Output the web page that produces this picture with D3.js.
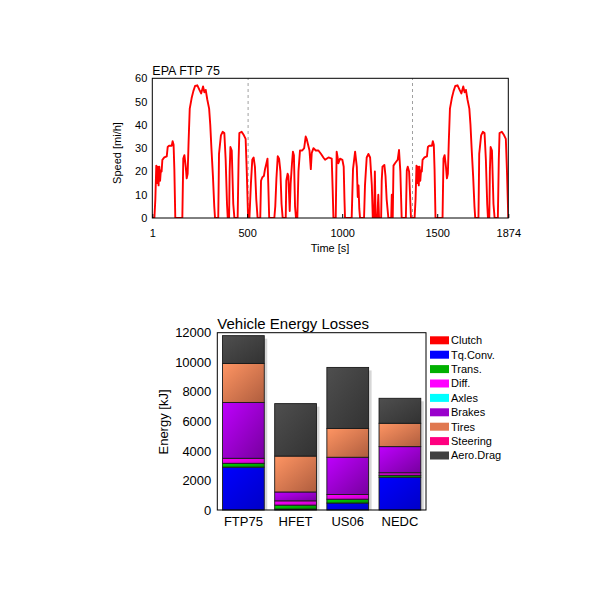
<!DOCTYPE html>
<html>
<head>
<meta charset="utf-8">
<script src="https://cdn.jsdelivr.net/npm/d3@7"></script>
<style>
  body { margin: 0; background: #fff; }
  text { font-family: "Liberation Sans", Arial, sans-serif; fill: #000; }
</style>
</head>
<body>
<svg width="600" height="600"></svg>
<script>
// FTP-75 speed trace, [time s, speed mi/h]
var coldPhase = [[1,0],[12,0],[17,8],[22,22.5],[26,15],[30,22],[34,14],[38,22],[42,16],[46,20.5],[50,20],[54,25],[64,26],[77,26.5],[82,30.5],[89,31],[103,31],[108,33],[113,31.5],[117,21],[122,0],[159,0],[164,25.5],[170,27],[177,22],[182,17],[187,19],[192,33],[198,47],[208,51.5],[217,54.5],[226,56.7],[238,57],[249,55],[258,53.5],[268,56.5],[275,54],[282,55],[290,51],[300,47],[306,40],[312,30],[320,18],[327,5],[331,0],[348,0],[352,27.5],[362,35.5],[371,37],[380,36.5],[387,25],[394,6],[398,0],[405,0],[408,20],[412,30.5],[419,29],[427,6],[433,0],[450,0],[455,25],[459,36.5],[471,37],[483,35.5],[492,34],[498,20],[505,0]];
var stablePhase = [[505,0],[512,0],[520,15],[527,25],[534,26],[541,22],[548,8],[555,0],[569,0],[573,16],[580,17.5],[588,18],[594,21],[600,23],[607,25.5],[611,15],[616,0],[643,0],[648,5],[654,17],[661,26.5],[668,25.5],[675,20],[681,6],[687,0],[703,0],[706,16],[713,19],[717,18],[724,3],[729,15],[736,23.5],[741,28.5],[746,27],[752,5],[757,0],[764,0],[770,20],[778,29],[790,29],[800,30],[808,35],[813,34],[819,32],[828,29],[835,21],[840,28],[849,30],[861,29],[875,29],[889,27.5],[901,26],[910,25],[928,26],[945,25.5],[950,12],[954,0],[966,0],[971,28.5],[976,26],[980,23.5],[989,25.5],[1001,25],[1008,22],[1012,8],[1015,0],[1050,0],[1057,21],[1068,28.5],[1077,22],[1082,9],[1086,14],[1090,4],[1094,0],[1115,0],[1120,14],[1129,26],[1138,27.5],[1147,26],[1156,14],[1161,0],[1168,0],[1172,20],[1176,0],[1185,0],[1190,10],[1194,0],[1205,0],[1208,16],[1212,22],[1222,22.8],[1228,18],[1234,8],[1243,0],[1258,0],[1261,10],[1264,0],[1266,0],[1270,22.5],[1278,23.5],[1292,25],[1299,29.2],[1306,20],[1313,0],[1335,0],[1340,20.5],[1345,22],[1352,20],[1359,6],[1362,0],[1370,0]];
var hotPhase = [[1370,0],[1381,0],[1386,8],[1391,22.5],[1395,15],[1399,22],[1403,14],[1407,22],[1411,16],[1415,20.5],[1419,20],[1423,25],[1433,26],[1446,26.5],[1451,30.5],[1458,31],[1472,31],[1477,33],[1482,31.5],[1486,21],[1491,0],[1528,0],[1533,25.5],[1539,27],[1546,22],[1551,17],[1556,19],[1561,33],[1567,47],[1577,51.5],[1586,54.5],[1595,56.7],[1607,57],[1618,55],[1627,53.5],[1637,56.5],[1644,54],[1651,55],[1659,51],[1669,47],[1675,40],[1681,30],[1689,18],[1696,5],[1700,0],[1717,0],[1721,27.5],[1731,35.5],[1740,37],[1749,36.5],[1756,25],[1763,6],[1767,0],[1774,0],[1777,20],[1781,30.5],[1788,29],[1796,6],[1802,0],[1819,0],[1824,25],[1828,36.5],[1840,37],[1852,35.5],[1861,34],[1867,20],[1874,0]];
var phaseBreaks = [505, 1370];
var timeTicks = [1, 500, 1000, 1500, 1874];
var speedTicks = [0, 10, 20, 30, 40, 50, 60];

// energy losses [kJ]
var cycles = ["FTP75", "HFET", "US06", "NEDC"];
var components = ["Clutch", "Tq.Conv.", "Trans.", "Diff.", "Axles", "Brakes", "Tires", "Steering", "Aero.Drag"];
var componentColors = ["#ff0000", "#0000ff", "#00b000", "#ff00ff", "#00ffff", "#9900cc", "#e07850", "#ff0080", "#404040"];
var clutch   = [0, 0, 0, 0];
var tqConv   = [2900, 60, 470, 2220];
var trans    = [260, 270, 260, 130];
var diff     = [340, 290, 320, 170];
var axles    = [0, 0, 0, 0];
var brakes   = [3780, 600, 2520, 1770];
var tires    = [2640, 2430, 1950, 1580];
var steering = [0, 0, 0, 0];
var aeroDrag = [1880, 3550, 4130, 1690];
var energyTicks = [0, 2000, 4000, 6000, 8000, 10000, 12000];

var svg = d3.select("svg");

// ---------- speed trace ----------
var x = d3.scaleLinear().domain([1, 1874]).range([152.3, 508.3]);
var y = d3.scaleLinear().domain([0, 60]).range([218, 78.3]);

svg.append("clipPath").attr("id", "plotclip")
  .append("rect")
  .attr("x", x.range()[0]).attr("y", y.range()[1])
  .attr("width", x.range()[1] - x.range()[0])
  .attr("height", y.range()[0] - y.range()[1]);

svg.selectAll("line.phase")
  .data(phaseBreaks)
  .enter()
  .append("line")
  .attr("class", "phase")
  .attr("x1", function(d) { return x(d); })
  .attr("x2", function(d) { return x(d); })
  .attr("y1", y(0)).attr("y2", y(60))
  .attr("stroke", "#a0a0a0")
  .attr("stroke-dasharray", "3,3");

var line = d3.line()
  .x(function(d) { return x(d[0]); })
  .y(function(d) { return y(d[1]); });

svg.append("path")
  .attr("d", line(coldPhase.concat(stablePhase, hotPhase)))
  .attr("fill", "none")
  .attr("stroke", "#ff0000")
  .attr("stroke-width", 1.9)
  .attr("stroke-linejoin", "round")
  .attr("clip-path", "url(#plotclip)");

var xAxis = svg.append("g")
  .attr("transform", "translate(0," + y(0) + ")")
  .call(d3.axisBottom(x).tickValues(timeTicks).tickFormat(d3.format("d")).tickSize(-4).tickPadding(11));
var yAxis = svg.append("g")
  .attr("transform", "translate(" + x(1) + ",0)")
  .call(d3.axisLeft(y).tickValues(speedTicks).tickSize(0).tickPadding(5));
[xAxis, yAxis].forEach(function(g) {
  g.select(".domain").remove();
  g.selectAll("text").style("font-size", "11px").style("font-family", null);
  g.selectAll("line").attr("stroke", "#000");
});

svg.append("rect")
  .attr("x", x.range()[0]).attr("y", y.range()[1])
  .attr("width", x.range()[1] - x.range()[0])
  .attr("height", y.range()[0] - y.range()[1])
  .attr("fill", "none").attr("stroke", "#000");

svg.append("text").attr("x", 152.3).attr("y", 75)
  .style("font-size", "12.5px").text("EPA FTP 75");
svg.append("text").attr("x", 330).attr("y", 252)
  .attr("text-anchor", "middle").style("font-size", "11px").text("Time [s]");
svg.append("text")
  .attr("transform", "translate(117,153) rotate(-90)")
  .attr("text-anchor", "middle").attr("dy", "0.35em")
  .style("font-size", "11px").text("Speed [mi/h]");

// ---------- energy losses ----------
var series = [clutch, tqConv, trans, diff, axles, brakes, tires, steering, aeroDrag];
var rows = cycles.map(function(c, i) {
  var row = { cycle: c };
  components.forEach(function(k, j) { row[k] = series[j][i]; });
  return row;
});
var stacked = d3.stack().keys(components)(rows);
var color = d3.scaleOrdinal().domain(components).range(componentColors);

var xb = d3.scaleBand().domain(cycles).range([217.3, 426]).paddingInner(0.2).paddingOuter(0.1);
var yb = d3.scaleLinear().domain([0, 12000]).range([510, 332.7]);

var defs = svg.append("defs");
components.forEach(function(k, j) {
  var g = defs.append("linearGradient").attr("id", "grad" + j)
    .attr("x1", 0).attr("y1", 0).attr("x2", 1).attr("y2", 1);
  g.append("stop").attr("offset", "0%").attr("stop-color", d3.color(color(k)).brighter(0.6));
  g.append("stop").attr("offset", "100%").attr("stop-color", d3.color(color(k)).darker(0.7));
});

// bar shadows
svg.selectAll("rect.shadow")
  .data(rows)
  .enter()
  .append("rect")
  .attr("class", "shadow")
  .attr("x", function(d) { return xb(d.cycle) + 3; })
  .attr("y", function(d, i) { return yb(stacked[stacked.length - 1][i][1]) + 3; })
  .attr("width", xb.bandwidth())
  .attr("height", function(d, i) { return 510 - yb(stacked[stacked.length - 1][i][1]) - 3; })
  .attr("fill", "#d6d6d6");

svg.selectAll("g.layer")
  .data(stacked)
  .enter()
  .append("g")
  .attr("class", "layer")
  .attr("fill", function(d, j) { return "url(#grad" + j + ")"; })
  .selectAll("rect")
  .data(function(d) { return d.filter(function(s) { return s[1] > s[0]; }); })
  .enter()
  .append("rect")
  .attr("x", function(d) { return xb(d.data.cycle); })
  .attr("y", function(d) { return yb(d[1]); })
  .attr("width", xb.bandwidth())
  .attr("height", function(d) { return yb(d[0]) - yb(d[1]); })
  .attr("stroke", "#1a1a1a")
  .attr("stroke-width", 0.9);

var ybAxis = svg.append("g")
  .attr("transform", "translate(217.3,0)")
  .call(d3.axisLeft(yb).tickValues(energyTicks).tickFormat(d3.format("d")).tickSize(0).tickPadding(6));
var xbAxis = svg.append("g")
  .attr("transform", "translate(0,510)")
  .call(d3.axisBottom(xb).tickSize(0).tickPadding(7));
[ybAxis, xbAxis].forEach(function(g) {
  g.select(".domain").remove();
  g.selectAll("text").style("font-size", "13px").style("font-family", null);
});

svg.append("rect")
  .attr("x", 217.3).attr("y", 332.7)
  .attr("width", 426 - 217.3).attr("height", 510 - 332.7)
  .attr("fill", "none").attr("stroke", "#000");

svg.append("text").attr("x", 217.3).attr("y", 328.5)
  .style("font-size", "15px").text("Vehicle Energy Losses");
svg.append("text")
  .attr("transform", "translate(163,422) rotate(-90)")
  .attr("text-anchor", "middle").attr("dy", "0.35em")
  .style("font-size", "13px").text("Energy [kJ]");

var legend = svg.selectAll("g.legend")
  .data(components)
  .enter()
  .append("g")
  .attr("class", "legend")
  .attr("transform", function(d, i) { return "translate(430," + (340.3 + i * 14.4) + ")"; });
legend.append("rect")
  .attr("x", 0).attr("y", -4).attr("width", 19).attr("height", 8)
  .attr("fill", function(d) { return color(d); });
legend.append("text")
  .attr("x", 21).attr("dy", "0.36em")
  .style("font-size", "11px")
  .text(function(d) { return d; });
</script>
</body>
</html>
